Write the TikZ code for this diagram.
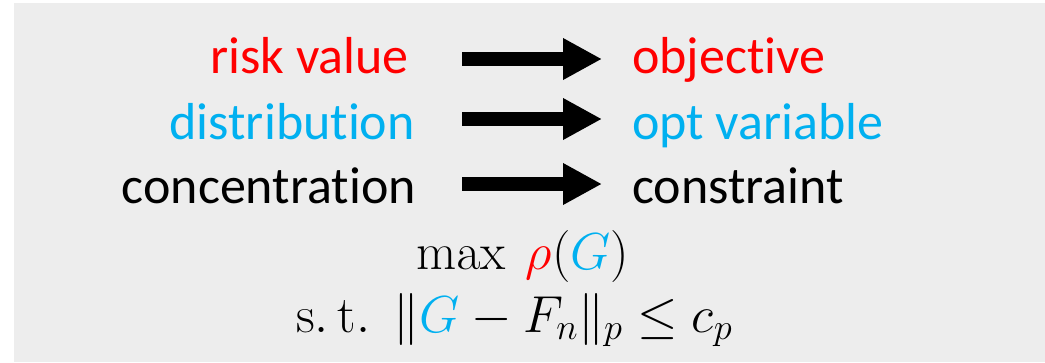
\RequirePackage{fix-cm}
\documentclass[tikz,border=0pt]{standalone}
\usepackage[no-math]{fontspec}
\setmainfont[Ligatures=NoCommon]{Carlito}
\usetikzlibrary{arrows.meta}
\definecolor{bgGrey}{HTML}{EDEDED}
\definecolor{riskRed}{HTML}{FF0000}
\definecolor{optBlue}{HTML}{00B0F0}
\tikzset{
  lbl/.style={inner sep=0pt, font=\fontsize{52}{60}\selectfont},
  mth/.style={inner sep=0pt, font=\fontsize{52}{60}\selectfont},
  blockarrow/.style={line width=13.3pt, -{Triangle[length=39pt, width=39pt]}, black}
}
\begin{document}
\begin{tikzpicture}[x=1pt,y=-1pt]
\useasboundingbox (0,0) rectangle (1045,362);
\fill[bgGrey] (14,3) rectangle (1045,362);
% left column
\node[lbl, text=riskRed, anchor=base east] (l1) at (409,73) {risk value};
\node[lbl, text=optBlue, anchor=base east] (l2) at (415,139) {distribution};
\node[lbl, text=black, anchor=base east] (l3) at (416,203) {concentration};
% right column
\node[lbl, text=riskRed, anchor=base west] (r1) at (632,73) {objective};
\node[lbl, text=optBlue, anchor=base west] (r2) at (632,139) {opt variable};
\node[lbl, text=black, anchor=base west] (r3) at (632,203) {constraint};
% arrows
\coordinate (a1s) at (462,59); \coordinate (a1e) at (602,59);
\coordinate (a2s) at (462,119); \coordinate (a2e) at (602,119);
\coordinate (a3s) at (462,184); \coordinate (a3e) at (602,184);
\draw[blockarrow] (a1s) -- (a1e);
\draw[blockarrow] (a2s) -- (a2e);
\draw[blockarrow] (a3s) -- (a3e);
% optimisation problem
\node[mth, anchor=base west] (obj) at (416,269)
  {$\max\ {\color{riskRed}\rho}({\color{optBlue}G})$};
\node[mth, anchor=base west] (con) at (296,332)
  {$\mathrm{s.\,t.}\ \ \|{\color{optBlue}G}-F_n\|_p\le c_p$};
\end{tikzpicture}
\end{document}
